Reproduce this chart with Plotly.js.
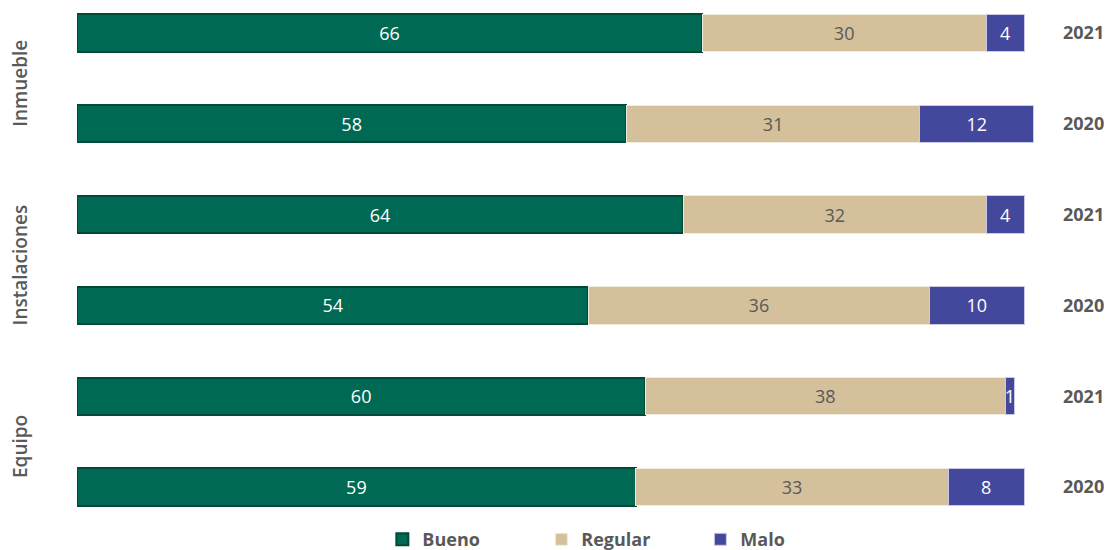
<!DOCTYPE html>
<html>
<head>
<meta charset="utf-8">
<script src="https://cdn.plot.ly/plotly-3.0.1.min.js"></script>
<style>html,body{margin:0;padding:0;background:#fff;}#chart{width:1110px;height:550px;}</style>
</head>
<body>
<div id="chart"></div>
<script>
var rowIds = ["Inmueble 2021", "Inmueble 2020", "Instalaciones 2021", "Instalaciones 2020", "Equipo 2021", "Equipo 2020"];
var yearLabels = ["2021", "2020", "2021", "2020", "2021", "2020"];
var groupLabels = ["Inmueble", "Instalaciones", "Equipo"];
var bueno = [66, 58, 64, 54, 60, 59];
var regular = [30, 31, 32, 36, 38, 33];
var malo = [4, 12, 4, 10, 1, 8];

var FONT = "Open Sans, Lato, sans-serif";
var GRAY = "#595959";

function mk(name, vals, color, textColor, line) {
  return {
    type: "bar", orientation: "h", name: name,
    x: vals, y: rowIds,
    text: vals.map(String), textposition: "inside", insidetextanchor: "middle",
    constraintext: "none",
    textfont: {family: FONT, size: 18, color: textColor},
    marker: {color: color, line: line},
    hoverinfo: "x+name"
  };
}

var data = [
  mk("Bueno", bueno, "#006954", "#ffffff", {color: "#004a3a", width: 2}),
  mk("Regular", regular, "#d4c09a", GRAY, {color: "#f3ece0", width: 1}),
  mk("Malo", malo, "#44489c", "#ffffff", {color: "#c9cbe6", width: 1})
];

var annotations = groupLabels.map(function (g, i) {
  return {
    xref: "paper", yref: "y", x: -0.058, y: i * 2 + 0.55,
    text: g, showarrow: false, textangle: -90,
    xanchor: "center", yanchor: "middle",
    font: {family: FONT, size: 19, color: GRAY, weight: 600}
  };
});

var layout = {
  width: 1110, height: 550,
  margin: {l: 77, r: 48, t: 0, b: 40, autoexpand: false},
  paper_bgcolor: "#ffffff", plot_bgcolor: "#ffffff",
  barmode: "stack", bargap: 0.59,
  font: {family: FONT, color: GRAY},
  xaxis: {range: [0, 104], showgrid: false, zeroline: false, showticklabels: false, showline: false, fixedrange: true},
  yaxis: {
    type: "category", range: [5.253, -0.363], side: "right",
    tickvals: rowIds, ticktext: yearLabels,
    tickfont: {family: FONT, size: 18, color: GRAY, weight: 700},
    showgrid: false, zeroline: false, showline: false, ticks: "", fixedrange: true
  },
  showlegend: true,
  legend: {
    orientation: "h", x: 0.31, xanchor: "left", y: -0.058, yanchor: "middle",
    font: {family: FONT, size: 18, color: GRAY, weight: 700}, traceorder: "normal",
    entrywidth: 114, entrywidthmode: "pixels", tracegroupgap: 0
  },
  annotations: annotations
};

Plotly.newPlot("chart", data, layout, {displayModeBar: false, staticPlot: true});
</script>
</body>
</html>
